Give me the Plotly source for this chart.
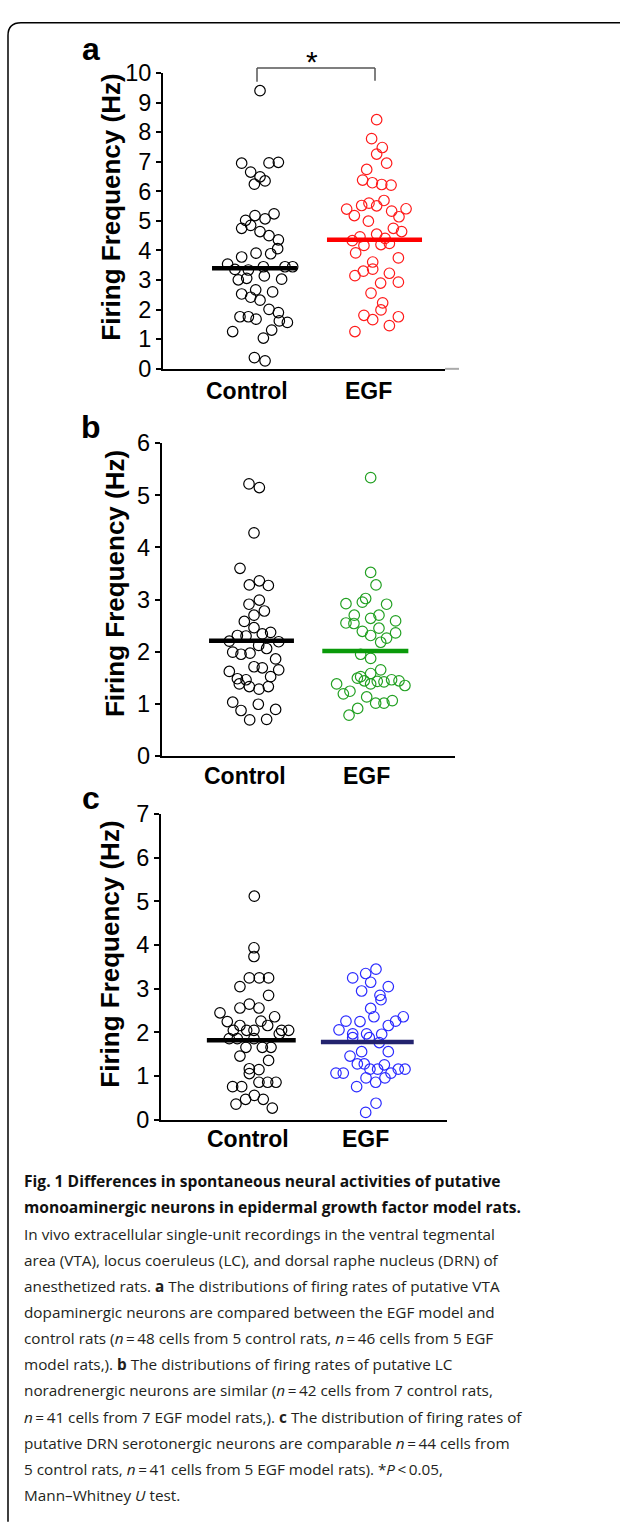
import plotly.graph_objects as go

W, H = 620, 1527

categories = ["Control", "EGF"]

# ---------------- Panel a : VTA (Hz) ----------------
a_ctrl_vals = [9.40, 6.95, 6.96, 6.98, 6.65, 6.49, 6.35, 6.24, 5.18, 5.24, 5.02, 5.07,
               4.75, 4.85, 4.64, 4.50, 4.36, 4.06, 3.91, 3.89, 3.78, 3.54, 3.36, 3.34,
               3.45, 3.45, 3.45, 3.01, 3.06, 3.14, 3.03, 2.67, 2.53, 2.42, 2.32, 2.60,
               2.01, 1.90, 1.76, 1.76, 1.68, 1.62, 1.57, 1.26, 1.31, 1.04, 0.38, 0.27]
a_ctrl_jit = [0.046, -0.107, 0.121, 0.199, -0.032, 0.046, 0.088, -0.001, 0.004, 0.163, -0.074, 0.088,
              -0.107, -0.032, 0.046, 0.121, 0.199, 0.193, 0.013, 0.135, -0.107, -0.224, -0.163, -0.051,
              0.074, 0.254, 0.318, -0.135, -0.065, 0.082, 0.226, 0.010, -0.107, -0.032, 0.046, 0.151,
              0.121, 0.199, -0.121, -0.051, 0.013, 0.207, 0.274, -0.182, 0.143, 0.074, -0.001, 0.088]
a_egf_vals = [8.42, 7.78, 7.48, 7.26, 6.95, 6.74, 6.38, 6.29, 6.23, 6.21, 5.69, 5.60,
              5.52, 5.51, 5.40, 5.41, 5.33, 5.18, 5.14, 4.99, 4.75, 4.64, 4.55, 4.46,
              4.33, 4.41, 4.17, 4.20, 4.24, 3.92, 3.75, 3.61, 3.30, 3.37, 3.15, 3.23,
              2.90, 2.93, 2.56, 2.23, 1.99, 1.81, 1.66, 1.76, 1.46, 1.26]
a_egf_jit = [0.018, -0.024, 0.065, 0.018, 0.101, -0.065, -0.099, -0.018, 0.060, 0.138, 0.079, -0.046,
             -0.107, 0.018, -0.232, 0.263, 0.143, -0.168, 0.204, -0.051, 0.157, 0.226, 0.018, -0.121,
             -0.185, 0.088, -0.088, 0.054, 0.124, -0.157, 0.199, -0.015, -0.093, -0.015, -0.163, 0.124,
             0.051, 0.199, -0.029, 0.068, 0.054, -0.088, -0.015, 0.199, 0.124, -0.163]
a_means = [3.40, 4.36]

# ---------------- Panel b : LC (Hz) ----------------
b_ctrl_vals = [5.22, 5.15, 4.28, 3.60, 3.36, 3.28, 3.27, 2.99, 2.91, 2.78, 2.70, 2.58,
               2.46, 2.31, 2.30, 2.34, 2.37, 2.20, 2.19, 2.12, 2.06, 1.99, 1.95, 1.97,
               1.86, 1.71, 1.69, 1.65, 1.62, 1.48, 1.46, 1.52, 1.38, 1.33, 1.33, 1.28,
               1.03, 0.99, 0.87, 0.89, 0.69, 0.70]
b_ctrl_jit = [-0.022, 0.069, 0.022, -0.101, 0.069, -0.019, 0.148, 0.069, -0.022, 0.113, 0.022, -0.063,
              0.022, -0.124, -0.048, 0.095, 0.168, -0.195, 0.239, 0.063, 0.133, -0.165, -0.092, -0.013,
              0.212, 0.022, 0.095, 0.239, -0.195, -0.124, -0.048, 0.168, -0.107, -0.019, 0.148, 0.066,
              -0.165, 0.060, -0.092, 0.212, -0.016, 0.133]
b_egf_vals = [5.34, 3.52, 3.28, 3.02, 2.95, 2.92, 2.91, 2.70, 2.70, 2.64, 2.55, 2.54,
              2.59, 2.45, 2.39, 2.36, 2.31, 2.26, 2.18, 1.95, 1.87, 1.65, 1.58, 1.49,
              1.52, 1.44, 1.43, 1.42, 1.46, 1.44, 1.38, 1.38, 1.35, 1.24, 1.19, 1.13,
              1.01, 1.01, 1.06, 0.91, 0.78]
b_egf_jit = [0.047, 0.047, 0.094, 0.003, -0.026, -0.170, 0.187, -0.097, 0.120, 0.047, -0.170, -0.100,
             0.266, 0.120, -0.026, 0.266, 0.047, 0.187, 0.135, -0.041, 0.047, 0.135, 0.047, -0.070,
             -0.041, -0.009, 0.105, 0.164, 0.231, 0.296, 0.047, -0.252, 0.348, -0.135, -0.193, 0.012,
             0.091, 0.164, 0.237, -0.067, -0.143]
b_means = [2.21, 2.01]

# ---------------- Panel c : DRN (Hz) ----------------
c_ctrl_vals = [5.12, 3.94, 3.74, 3.25, 3.25, 3.25, 3.05, 2.85, 2.65, 2.56, 2.56, 2.45,
               2.36, 2.25, 2.26, 2.16, 2.16, 2.05, 2.05, 2.05, 2.05, 2.05, 1.97, 1.86,
               1.86, 1.86, 1.66, 1.66, 1.66, 1.46, 1.36, 1.17, 1.15, 1.06, 0.86, 0.86,
               0.86, 0.76, 0.76, 0.56, 0.47, 0.47, 0.36, 0.27]
c_ctrl_jit = [0.026, 0.023, 0.023, -0.017, 0.069, 0.149, -0.098, 0.149, -0.017, -0.098, 0.066, -0.270,
              0.201, -0.207, 0.083, -0.098, 0.141, -0.155, -0.040, 0.023, 0.261, 0.322, 0.241, -0.190,
              -0.121, 0.023, -0.046, 0.095, 0.170, -0.098, 0.149, -0.017, 0.066, -0.017, 0.066, 0.141,
              0.213, -0.161, -0.083, 0.026, -0.049, 0.103, -0.132, 0.181]
c_egf_vals = [3.45, 3.35, 3.25, 3.15, 3.05, 2.95, 2.85, 2.75, 2.55, 2.36, 2.36, 2.26,
              2.25, 2.26, 2.16, 2.06, 1.97, 1.97, 1.96, 1.88, 1.88, 1.77, 1.56, 1.56,
              1.46, 1.28, 1.28, 1.26, 1.16, 1.16, 1.16, 1.16, 1.07, 1.07, 1.07, 0.96,
              0.96, 0.86, 0.76, 0.38, 0.17]
c_egf_jit = [0.075, -0.014, -0.126, 0.029, 0.181, -0.049, 0.109, 0.118, 0.029, 0.057, 0.310, -0.184,
             -0.063, 0.244, 0.181, -0.244, -0.126, -0.006, 0.124, -0.126, 0.017, 0.103, -0.049, 0.181,
             -0.149, -0.086, -0.026, 0.147, 0.023, 0.089, 0.267, 0.325, -0.270, -0.207, 0.204, -0.011,
             0.152, 0.072, -0.092, 0.075, -0.014]
c_means = [1.82, 1.78]

y_title = "Firing Frequency (Hz)"
caption_lines = [
    "<b>Fig. 1 Differences in spontaneous neural activities of putative</b>",
    "<b>monoaminergic neurons in epidermal growth factor model rats.</b>",
    "In vivo extracellular single-unit recordings in the ventral tegmental",
    "area (VTA), locus coeruleus (LC), and dorsal raphe nucleus (DRN) of",
    "anesthetized rats. <b>a</b> The distributions of firing rates of putative VTA",
    "dopaminergic neurons are compared between the EGF model and",
    "control rats (<i>n</i>\u2009=\u200948 cells from 5 control rats, <i>n</i>\u2009=\u200946 cells from 5 EGF",
    "model rats,). <b>b</b> The distributions of firing rates of putative LC",
    "noradrenergic neurons are similar (<i>n</i>\u2009=\u200942 cells from 7 control rats,",
    "<i>n</i>\u2009=\u200941 cells from 7 EGF model rats,). <b>c</b> The distribution of firing rates of",
    "putative DRN serotonergic neurons are comparable <i>n</i>\u2009=\u200944 cells from",
    "5 control rats, <i>n</i>\u2009=\u200941 cells from 5 EGF model rats). *<i>P</i>\u2009&lt;\u20090.05,",
    "Mann\u2013Whitney <i>U</i> test.",
]

# ---------------- styling / layout (pixel based) ----------------
def px(x):
    return x / W

def py(y):
    return 1 - y / H

AX_FONT = "Liberation Sans, Arial, sans-serif"
CAP_FONT = "Open Sans, Lato, sans-serif"

panels = [
    dict(label="a", ctrl=(a_ctrl_vals, a_ctrl_jit), egf=(a_egf_vals, a_egf_jit), means=a_means,
         color="#ff1a1a", mean_color="#ff0000", xdom=(163, 445), ydom=(61, 362),
         xrange=(0.2375, 2.5875), ymax=10, hw=(0.354, 0.396), tick_size=23.5,
         title_pos=(111, 198), label_pos=(91, 37), cat_y=385, cat_x=(247, 368)),
    dict(label="b", ctrl=(b_ctrl_vals, b_ctrl_jit), egf=(b_egf_vals, b_egf_jit), means=b_means,
         color="#22a022", mean_color="#0a9a0a", xdom=(161.7, 455), ydom=(437.7, 755.7),
         xrange=(0.211, 2.788), ymax=6, hw=(0.373, 0.378), tick_size=23.5,
         title_pos=(115, 581), label_pos=(91, 421), cat_y=776, cat_x=(245, 366)),
    dict(label="c", ctrl=(c_ctrl_vals, c_ctrl_jit), egf=(c_egf_vals, c_egf_jit), means=c_means,
         color="#2a2aff", mean_color="#23236e", xdom=(161, 447), ydom=(815, 1126),
         xrange=(0.2216, 2.687), ymax=7, hw=(0.383, 0.40), tick_size=23.5,
         title_pos=(110, 958), label_pos=(91, 799), cat_y=1146, cat_x=(248, 365)),
]

fig = go.Figure()
annotations = []
shapes = []
layout_axes = {}

for i, p in enumerate(panels):
    k = "" if i == 0 else str(i + 1)
    xa, ya = "x" + k, "y" + k
    groups = [(p["ctrl"], "black"), (p["egf"], p["color"])]
    for ci, ((vals, jit), col) in enumerate(groups):
        fig.add_trace(go.Scatter(
            x=[ci + 1 + j for j in jit], y=vals, mode="markers", xaxis=xa, yaxis=ya,
            marker=dict(symbol="circle-open", size=10.5, color=col, line=dict(width=1.2, color=col)),
            showlegend=False, hoverinfo="y", cliponaxis=False))
    for ci, (m, col) in enumerate(zip(p["means"], ["black", p["mean_color"]])):
        fig.add_trace(go.Scatter(
            x=[ci + 1 - p["hw"][ci], ci + 1 + p["hw"][ci]], y=[m, m], mode="lines",
            xaxis=xa, yaxis=ya, line=dict(color=col, width=4.5), showlegend=False,
            hoverinfo="skip", cliponaxis=False))
    layout_axes["xaxis" + k] = dict(
        domain=[px(p["xdom"][0]), px(p["xdom"][1])], range=list(p["xrange"]),
        showline=True, linecolor="black", linewidth=2, showgrid=False, zeroline=False,
        showticklabels=False, ticks="", anchor=ya, fixedrange=True)
    layout_axes["yaxis" + k] = dict(
        domain=[py(p["ydom"][1]), py(p["ydom"][0])], range=[0, p["ymax"]],
        tickmode="array", tickvals=list(range(0, p["ymax"] + 1)),
        showline=True, linecolor="black", linewidth=2, showgrid=False, zeroline=False,
        ticks="outside", ticklen=5, tickwidth=2, tickcolor="black",
        tickfont=dict(family=AX_FONT, size=p["tick_size"], color="black"),
        anchor=xa, fixedrange=True)
    annotations.append(dict(
        text="<b>%s</b>" % y_title, textangle=-90, xref="paper", yref="paper",
        x=px(p["title_pos"][0]), y=py(p["title_pos"][1]), xanchor="center", yanchor="middle",
        showarrow=False, font=dict(family=AX_FONT, size=26, color="black")))
    annotations.append(dict(
        text="<b>%s</b>" % p["label"], xref="paper", yref="paper",
        x=px(p["label_pos"][0]), y=py(p["label_pos"][1]), xanchor="center", yanchor="middle",
        showarrow=False, font=dict(family=AX_FONT, size=32, color="black")))
    for cat, cx in zip(categories, p["cat_x"]):
        annotations.append(dict(
            text="<b>%s</b>" % cat, xref="paper", yref="paper",
            x=px(cx), y=py(p["cat_y"]), xanchor="center", yanchor="middle",
            showarrow=False, font=dict(family=AX_FONT, size=23, color="black")))

# significance bracket (panel a)
br = dict(type="line", xref="paper", yref="paper", line=dict(color="#555555", width=1.5))
shapes.append(dict(br, x0=px(257), x1=px(257), y0=py(56), y1=py(70)))
shapes.append(dict(br, x0=px(375), x1=px(375), y0=py(56), y1=py(69)))
shapes.append(dict(br, x0=px(257), x1=px(375), y0=py(56), y1=py(56)))
annotations.append(dict(text="*", xref="paper", yref="paper", x=px(312), y=py(49),
                        xanchor="center", yanchor="middle", showarrow=False,
                        font=dict(family=AX_FONT, size=30, color="black")))
# light grey continuation of panel a x axis
shapes.append(dict(type="line", xref="paper", yref="paper", x0=px(445), x1=px(459),
                   y0=py(362), y1=py(362), line=dict(color="#aaaaaa", width=2)))

# outer frame (rounded top-left corner)
frame = "M %f %f L %f %f Q %f %f %f %f L %f %f" % (
    px(8), py(1535), px(8), py(23), px(8), py(10), px(21), py(10), px(630), py(10))
shapes.append(dict(type="path", path=frame, xref="paper", yref="paper",
                   line=dict(color="black", width=1.5)))

# caption
cap_y0, cap_dy = 1188.5, 26.6
for li, line in enumerate(caption_lines):
    annotations.append(dict(
        text=line, xref="paper", yref="paper", x=px(22), y=py(cap_y0 + li * cap_dy),
        xanchor="left", yanchor="middle", showarrow=False, align="left",
        font=dict(family=CAP_FONT, size=15.6 if li < 2 else 15.3,
                  color="#111111" if li < 2 else "#231f20")))

fig.update_layout(
    width=W, height=H, autosize=False,
    margin=dict(l=0, r=0, t=0, b=0),
    paper_bgcolor="white", plot_bgcolor="white",
    annotations=annotations, shapes=shapes, **layout_axes)

fig.write_html("out.html", config={"displayModeBar": False},
               post_script="document.body.style.margin='0px';")
